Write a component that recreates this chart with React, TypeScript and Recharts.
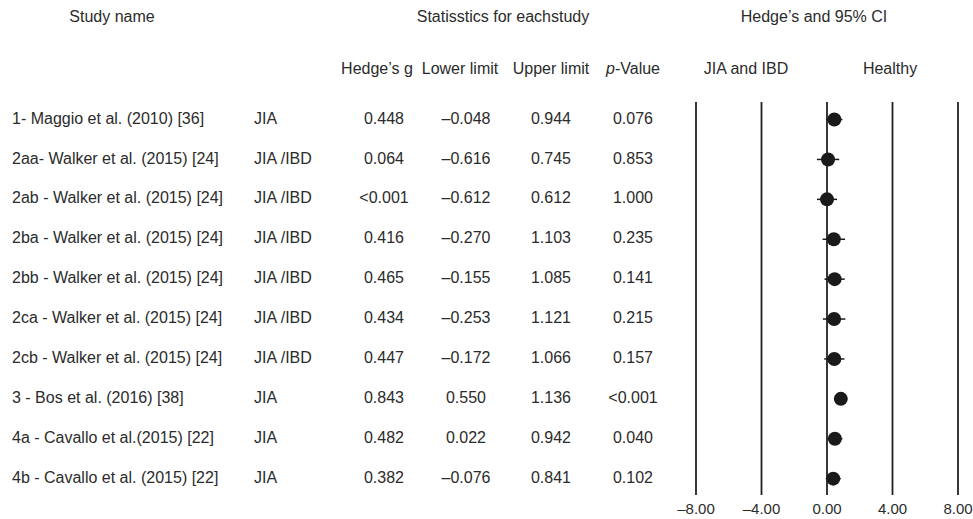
import { ComposedChart, Scatter, XAxis, YAxis, ErrorBar, ReferenceLine } from 'recharts'

const studies = [
  '1- Maggio et al. (2010) [36]',
  '2aa- Walker et al. (2015) [24]',
  '2ab - Walker et al. (2015) [24]',
  '2ba - Walker et al. (2015) [24]',
  '2bb - Walker et al. (2015) [24]',
  '2ca - Walker et al. (2015) [24]',
  '2cb - Walker et al. (2015) [24]',
  '3 - Bos et al. (2016) [38]',
  '4a - Cavallo et al.(2015) [22]',
  '4b - Cavallo et al. (2015) [22]',
]
const groups = ['JIA', 'JIA /IBD', 'JIA /IBD', 'JIA /IBD', 'JIA /IBD', 'JIA /IBD', 'JIA /IBD', 'JIA', 'JIA', 'JIA']
const hedgesG = [0.448, 0.064, 0, 0.416, 0.465, 0.434, 0.447, 0.843, 0.482, 0.382]
const lowerLimits = [-0.048, -0.616, -0.612, -0.27, -0.155, -0.253, -0.172, 0.55, 0.022, -0.076]
const upperLimits = [0.944, 0.745, 0.612, 1.103, 1.085, 1.121, 1.066, 1.136, 0.942, 0.841]
const pValues = ['0.076', '0.853', '1.000', '0.235', '0.141', '0.215', '0.157', '<0.001', '0.040', '0.102']
const xTicks = [-8, -4, 0, 4, 8]

const INK = '#2b2b2b'

const rowTicks = studies.map((_, i) => i)
const data = studies.map((_, i) => ({
  row: i,
  g: hedgesG[i],
  err: [hedgesG[i] - lowerLimits[i], upperLimits[i] - hedgesG[i]],
}))

// en dash for negatives, like the original
const fmt = (v: number, digits: number) => (v < 0 ? '\u2013' : '') + Math.abs(v).toFixed(digits)
const fmtG = (v: number) => (v < 0.001 && v >= 0 ? '<0.001' : fmt(v, 3))

// table columns drawn on each row tick of the (hidden) y axis
const RowTick = ({ y, payload }: any) => {
  const i = payload.value
  const ty = y - 1.5
  return (
    <g fill={INK} fontSize={16}>
      <text x={12} y={ty} dy="0.35em" textAnchor="start">{studies[i]}</text>
      <text x={254} y={ty} dy="0.35em" textAnchor="start">{groups[i]}</text>
      <text x={384} y={ty} dy="0.35em" textAnchor="middle">{fmtG(hedgesG[i])}</text>
      <text x={466} y={ty} dy="0.35em" textAnchor="middle">{fmt(lowerLimits[i], 3)}</text>
      <text x={551} y={ty} dy="0.35em" textAnchor="middle">{fmt(upperLimits[i], 3)}</text>
      <text x={633} y={ty} dy="0.35em" textAnchor="middle">{pValues[i]}</text>
    </g>
  )
}

const Header = ({ x, y, children }: { x: number; y: number; children: any }) => (
  <div
    style={{
      position: 'absolute',
      left: x,
      top: y - 8,
      transform: 'translateX(-50%)',
      fontSize: 16,
      lineHeight: '16px',
      whiteSpace: 'nowrap',
      color: INK,
    }}
  >
    {children}
  </div>
)

export default function App() {
  return (
    <div
      style={{
        position: 'absolute',
        left: 0,
        top: 0,
        width: 973,
        height: 519,
        background: '#fff',
        fontFamily: '"Liberation Sans", Arial, sans-serif',
        overflow: 'hidden',
      }}
    >
      <ComposedChart width={973} height={519} data={data} margin={{ top: 102, right: 15, bottom: 0, left: 686 }}>
        <XAxis
          type="number"
          dataKey="g"
          domain={[-8, 8]}
          ticks={xTicks}
          interval={0}
          allowDataOverflow
          axisLine={false}
          tickLine={false}
          height={24}
          tick={{ fontSize: 15, fill: INK }}
          tickFormatter={(v) => fmt(v, 2)}
        />
        <YAxis
          type="number"
          dataKey="row"
          domain={[-0.44, 9.41]}
          reversed
          ticks={rowTicks}
          interval={0}
          allowDataOverflow
          axisLine={false}
          tickLine={false}
          width={10}
          tick={<RowTick />}
        />
        {xTicks.map((v) => (
          <ReferenceLine key={v} x={v} stroke="#222" strokeWidth={1.8} />
        ))}
        <Scatter
          dataKey="row"
          isAnimationActive={false}
          shape={(p: any) => <circle cx={p.cx} cy={p.cy} r={7} fill="#1a1a1a" />}
        >
          <ErrorBar dataKey="err" direction="x" width={0} stroke="#1a1a1a" strokeWidth={1.5} />
        </Scatter>
      </ComposedChart>

      <Header x={112} y={17}>Study name</Header>
      <Header x={503} y={17}>Statisstics for eachstudy</Header>
      <Header x={814} y={17}>Hedge’s and 95% CI</Header>
      <Header x={377} y={69}>Hedge’s g</Header>
      <Header x={460} y={69}>Lower limit</Header>
      <Header x={551} y={69}>Upper limit</Header>
      <Header x={633} y={69}>
        <span style={{ fontStyle: 'italic' }}>p</span>-Value
      </Header>
      <Header x={746} y={69}>JIA and IBD</Header>
      <Header x={890} y={69}>Healthy</Header>
    </div>
  )
}
